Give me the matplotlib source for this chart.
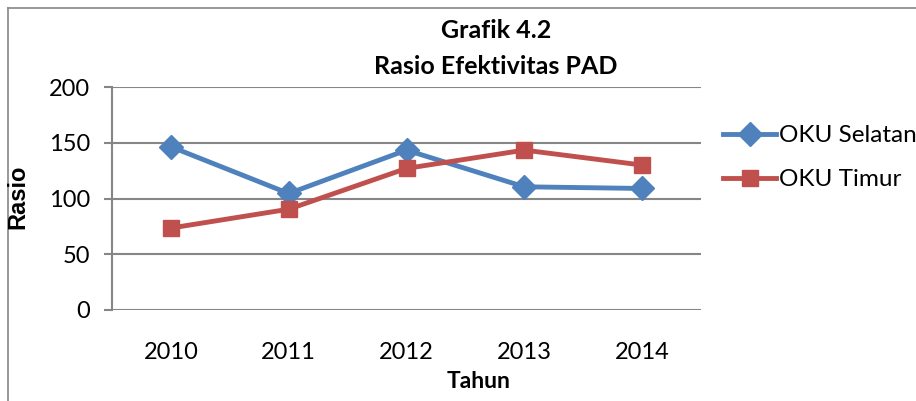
import matplotlib.pyplot as plt
from matplotlib.lines import Line2D

plt.rcParams['font.family'] = ['Lato', 'DejaVu Sans']

years = ['2010', '2011', '2012', '2013', '2014']
oku_selatan = [146.4, 104.5, 143.4, 110.5, 109]
oku_timur = [73.5, 90.4, 127, 143.4, 130]

blue = '#4F81BD'
red = '#C0504D'
grid = '#868686'

fig = plt.figure(figsize=(9.16, 4.01), dpi=100)
ax = fig.add_axes([112/916, 1-310/401, (701-112)/916, (310-87)/401])

x = list(range(len(years)))
ax.plot(x, oku_selatan, color=blue, lw=3.5, marker='D', ms=12, label='OKU Selatan')
ax.plot(x, oku_timur, color=red, lw=3.5, marker='s', ms=12, label='OKU Timur')

ax.set_xlim(-0.5, 4.5)
ax.set_ylim(0, 200)
ax.set_yticks([0, 50, 100, 150, 200])
ax.set_xticks(x)
ax.set_xticklabels(years)
ax.yaxis.grid(True, color=grid, lw=1.5)
ax.set_axisbelow(True)
for s in ['top', 'right', 'bottom']:
    ax.spines[s].set_visible(False)
ax.spines['left'].set_color(grid)
ax.spines['left'].set_linewidth(1.5)
ax.tick_params(axis='y', colors=grid, length=5.5, width=1.5, pad=10, labelcolor='black', labelsize=17)
ax.tick_params(axis='x', length=0, pad=23, labelsize=17)

fig.text(18/916, 1-197/401, 'Rasio', rotation=90, ha='center', va='center',
         fontsize=17, fontweight='bold', family=['Liberation Sans', 'DejaVu Sans'])
fig.text(479/916, 1-382/401, 'Tahun', ha='center', va='center', fontsize=16.5, fontweight='bold')

fig.text(496/916, 1-30/401, 'Grafik 4.2', ha='center', va='center', fontsize=18, fontweight='bold')
fig.text(496/916, 1-66/401, 'Rasio Efektivitas PAD', ha='center', va='center', fontsize=18, fontweight='bold')

ax.legend(loc='upper left', bbox_to_anchor=(723/916, 1-125/401), bbox_transform=fig.transFigure,
          frameon=False, fontsize=17.5, handlelength=2.2, handletextpad=0.12, labelspacing=0.95,
          borderaxespad=0, borderpad=0)

fig.add_artist(Line2D([8/916, 8/916], [0, 1-8/401], transform=fig.transFigure, color=grid, lw=1.2))
fig.add_artist(Line2D([8/916, 1], [1-8/401, 1-8/401], transform=fig.transFigure, color=grid, lw=1.2))

fig.savefig('out.png', dpi=100)
